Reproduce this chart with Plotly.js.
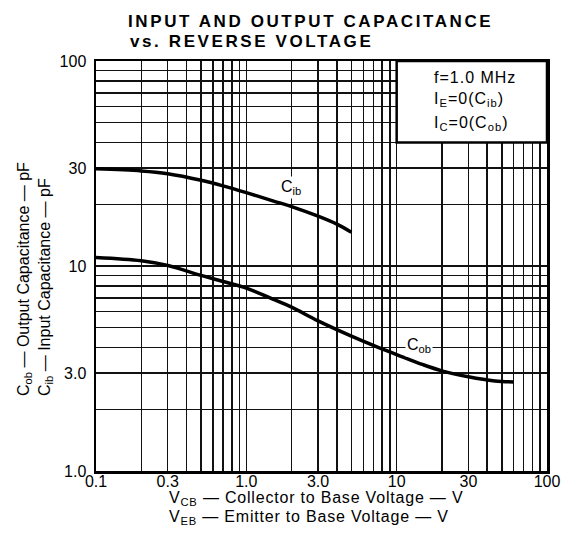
<!DOCTYPE html>
<html>
<head>
<meta charset="utf-8">
<script src="https://cdn.plot.ly/plotly-3.0.1.min.js"></script>
<style>
  html, body { margin: 0; padding: 0; background: #fff; }
  #chart { width: 568px; height: 541px; }
  .gtitle { letter-spacing: 2.6px; }
</style>
</head>
<body>
<div id="chart"></div>
<script>
// ---- data ----
const cibVoltage = [0.1, 0.2, 0.3, 0.5, 0.7, 1.0, 1.5, 2.0, 3.0, 4.0, 5.0];
const cibCap     = [29.8, 29.1, 28.2, 26.2, 24.6, 22.8, 20.8, 19.5, 17.5, 16.0, 14.6];

const cobVoltage = [0.1, 0.2, 0.3, 0.5, 0.7, 1.0, 1.5, 2.0, 3.0, 5.0, 7.0, 10, 15, 20, 30, 45, 60];
const cobCap     = [11.0, 10.6, 10.05, 9.0, 8.4, 7.8, 6.9, 6.3, 5.4, 4.55, 4.1, 3.7, 3.3, 3.08, 2.88, 2.75, 2.72];

const xLabelVals = [0.1, 0.3, 1, 3, 10, 30, 100];
const xLabelText = ['0.1', '0.3', '1.0', '3.0', '10', '30', '100'];
const yLabelVals = [1, 3, 10, 30, 100];
const yLabelText = ['1.0', '3.0', '10', '30', '100'];
const xDecades = [0.1, 1, 10];
const yDecades = [1, 10];

function gridVals(decades) {
  const vals = [];
  decades.forEach(d => {
    for (let m = 2; m <= 9; m++) vals.push(+(d * m).toPrecision(3));
  });
  return vals;
}

const FONT = 'Liberation Sans, Arial, Helvetica, sans-serif';

const traces = [
  {x: cibVoltage, y: cibCap, type: 'scatter', mode: 'lines', name: 'Cib',
   line: {color: '#000', width: 3.5, shape: 'spline', smoothing: 1}, hoverinfo: 'skip'},
  {x: cobVoltage, y: cobCap, type: 'scatter', mode: 'lines', name: 'Cob',
   line: {color: '#000', width: 3.5, shape: 'spline', smoothing: 1}, hoverinfo: 'skip'}
];

const axisCommon = {
  type: 'log', tickmode: 'array', showgrid: true, gridcolor: '#111', gridwidth: 1.5,
  showline: true, linecolor: '#000', linewidth: 2.5, mirror: true, ticks: '', ticklen: 0,
  zeroline: false, automargin: false, fixedrange: true,
  tickfont: {family: FONT, size: 16, color: '#000'}
};

const layout = {
  width: 568, height: 541,
  margin: {l: 96, r: 21, t: 61, b: 70},
  paper_bgcolor: '#fff', plot_bgcolor: '#fff',
  showlegend: false,
  title: {text: 'INPUT AND OUTPUT CAPACITANCE', xref: 'container', x: 128 / 568, xanchor: 'left',
          yref: 'container', y: 1 - 21.5 / 541, yanchor: 'middle',
          font: {family: FONT, size: 17, color: '#000', weight: 'bold'}},
  xaxis: Object.assign({}, axisCommon, {
    range: [-1, 2], tickvals: xLabelVals, ticktext: xLabelText, ticklabelstandoff: -6,
    minor: {tickmode: 'array', tickvals: gridVals(xDecades), showgrid: true, gridcolor: '#111', gridwidth: 1.5, ticks: ''}
  }),
  yaxis: Object.assign({}, axisCommon, {
    range: [0, 2], tickvals: yLabelVals, ticktext: yLabelText, ticklabelstandoff: 4,
    minor: {tickmode: 'array', tickvals: gridVals(yDecades), showgrid: true, gridcolor: '#111', gridwidth: 1.5, ticks: ''}
  }),
  shapes: [
    {type: 'rect', xref: 'paper', yref: 'paper', x0: 2 / 3, x1: 1, y0: Math.log10(40) / 2, y1: 1,
     fillcolor: '#fff', line: {color: '#000', width: 2.5}, layer: 'above'}
  ],
  annotations: [
    {text: '<b>vs. REVERSE VOLTAGE</b>', xref: 'paper', yref: 'paper', x: (128 - 96) / 451, y: (471 - 41.5) / 410,
     xanchor: 'left', yanchor: 'middle', align: 'left', showarrow: false,
     font: {family: FONT, size: 17, color: '#000'}},
    {text: 'V<sub>CB</sub> — Collector to Base Voltage — V',
     xref: 'paper', yref: 'paper', x: (167 - 96) / 451, y: (471 - 487) / 410,
     xanchor: 'left', yanchor: 'top', align: 'left', showarrow: false,
     font: {family: FONT, size: 16, color: '#000'}},
    {text: 'V<sub>EB</sub> — Emitter to Base Voltage — V',
     xref: 'paper', yref: 'paper', x: (167 - 96) / 451, y: (471 - 506) / 410,
     xanchor: 'left', yanchor: 'top', align: 'left', showarrow: false,
     font: {family: FONT, size: 16, color: '#000'}},
    {text: 'C<sub>ob</sub> — Output Capacitance — pF<br>C<sub>ib</sub> — Input Capacitance — pF',
     xref: 'paper', yref: 'paper', x: (35 - 96) / 451, y: (471 - 398) / 410,
     xanchor: 'center', yanchor: 'bottom', align: 'left', textangle: -90, showarrow: false,
     font: {family: FONT, size: 16, color: '#000'}},
    {text: 'f=1.0 MHz', xref: 'paper', yref: 'paper', x: (432 - 96) / 451, y: (471 - 77) / 410,
     xanchor: 'left', yanchor: 'middle', align: 'left', showarrow: false,
     font: {family: FONT, size: 16, color: '#000'}},
    {text: 'I<sub>E</sub>=0(C<sub>ib</sub>)', xref: 'paper', yref: 'paper', x: (432 - 96) / 451, y: (471 - 100) / 410,
     xanchor: 'left', yanchor: 'middle', align: 'left', showarrow: false,
     font: {family: FONT, size: 16, color: '#000'}},
    {text: 'I<sub>C</sub>=0(C<sub>ob</sub>)', xref: 'paper', yref: 'paper', x: (432 - 96) / 451, y: (471 - 123) / 410,
     xanchor: 'left', yanchor: 'middle', align: 'left', showarrow: false,
     font: {family: FONT, size: 16, color: '#000'}},
    {text: 'C<sub>ib</sub>', xref: 'paper', yref: 'paper', x: (291 - 96) / 451, y: (471 - 187) / 410,
     xanchor: 'center', yanchor: 'middle', showarrow: false, bgcolor: '#fff', borderpad: 1,
     font: {family: FONT, size: 16, color: '#000'}},
    {text: 'C<sub>ob</sub>', xref: 'paper', yref: 'paper', x: (419 - 96) / 451, y: (471 - 345) / 410,
     xanchor: 'center', yanchor: 'middle', showarrow: false, bgcolor: '#fff', borderpad: 1,
     font: {family: FONT, size: 16, color: '#000'}}
  ]
};

const spacing = {0: 2.6, 1: 0.8, 2: 0.8, 4: 1, 5: 1, 6: 1};

Plotly.newPlot('chart', traces, layout, {staticPlot: true, displayModeBar: false}).then(() => {
  document.querySelectorAll('.annotation').forEach(g => {
    const idx = g.getAttribute('data-index');
    if (spacing[idx] !== undefined) {
      g.querySelectorAll('text').forEach(t => { t.style.letterSpacing = spacing[idx] + 'px'; });
    }
  });
});
</script>
</body>
</html>
